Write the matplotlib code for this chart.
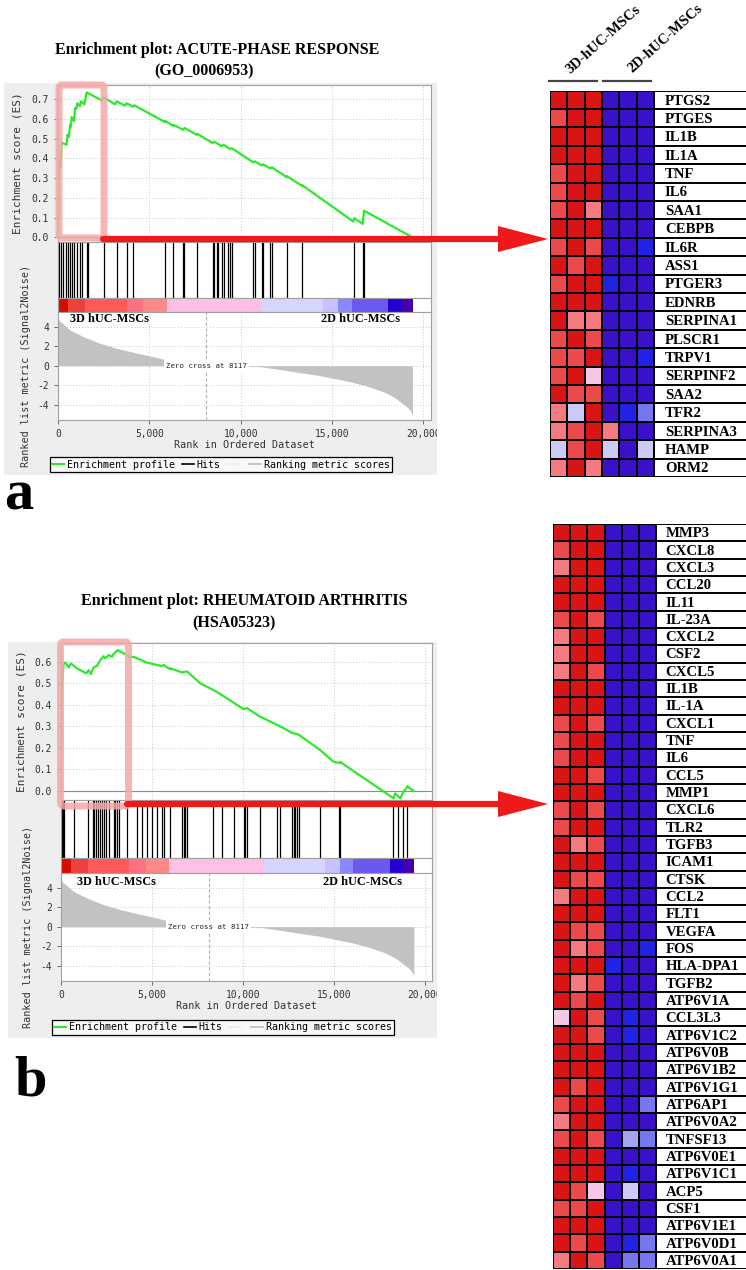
import numpy as np
import matplotlib.pyplot as plt
from matplotlib.colors import ListedColormap
from matplotlib.patches import FancyBboxPatch, Polygon
from matplotlib.lines import Line2D

plt.rcParams['axes.unicode_minus'] = False

W, H = 746, 1270
MONO = 'DejaVu Sans Mono'
SERIF = 'Liberation Serif'

# ---------------- GSEA data ----------------
# panel a: ACUTE-PHASE RESPONSE, running enrichment score
es_a_rank = [0, 55, 150, 200, 470, 520, 600, 655, 700, 748, 880, 930, 1000, 1060, 1200,
             1260, 1440, 1570, 2390, 2500, 3120, 3210, 3660, 3760, 4120, 4170, 5850, 5880,
             6310, 6340, 6860, 6920, 7590, 7620, 8470, 8560, 8960, 9060, 9420, 9510,
             10690, 10780, 11150, 11240, 11600, 11700, 12520, 12540, 13340, 13360,
             16160, 16220, 16680, 16750, 19400]
es_a = [0.0, 0.38, 0.36, 0.48, 0.47, 0.52, 0.51, 0.57, 0.56, 0.61, 0.59, 0.655, 0.65, 0.68, 0.665,
        0.69, 0.675, 0.735, 0.695, 0.71, 0.675, 0.69, 0.668, 0.68, 0.662, 0.67, 0.585, 0.59,
        0.565, 0.57, 0.545, 0.555, 0.52, 0.525, 0.478, 0.485, 0.462, 0.47, 0.448, 0.452,
        0.38, 0.385, 0.365, 0.37, 0.35, 0.355, 0.305, 0.31, 0.262, 0.265,
        0.08, 0.097, 0.068, 0.135, 0.0]
hits_a = [55, 164, 292, 420, 566, 657, 748, 876, 1058, 1204, 1332, 1569, 1660, 2536, 3211,
          3759, 4123, 5857, 6313, 6860, 6915, 7590, 8466, 8539, 8685, 8776, 8958, 9086, 9287,
          9414, 9506, 10692, 10783, 11148, 11239, 11604, 11695, 12516, 13337, 16220, 16713,
          16749]

# panel b: RHEUMATOID ARTHRITIS
es_b_rank = [0, 30, 145, 236, 420, 548, 877, 1390, 1518, 1647, 1793, 1976, 2160, 2343, 2435,
             2618, 2801, 2893, 3113, 3625, 3809, 3992, 4175, 4725, 5274, 5550, 5640, 6000,
             6010, 6650, 6930, 7656, 8350, 8850, 9490, 10040, 10220, 10950, 11320, 12050,
             12700, 13060, 14250, 14980, 15310, 15350, 18283, 18375, 18558, 18650, 18833,
             18980, 19053, 19236, 19400]
es_b = [0.0, 0.47, 0.592, 0.596, 0.574, 0.592, 0.569, 0.546, 0.561, 0.543, 0.574, 0.58,
        0.608, 0.626, 0.616, 0.631, 0.623, 0.636, 0.654, 0.631, 0.62, 0.623, 0.616, 0.596,
        0.585, 0.58, 0.585, 0.565, 0.57, 0.55, 0.555, 0.5, 0.47, 0.445, 0.41, 0.38, 0.385,
        0.345, 0.33, 0.3, 0.27, 0.262, 0.19, 0.136, 0.13, 0.135, -0.034, -0.011, -0.026,
        -0.034, -0.003, 0.012, 0.023, 0.008, 0.0]
hits_b = [16, 53, 90, 145, 694, 1464, 1757, 1830, 1922, 2013, 2123, 2251, 2343, 2490, 2618,
          2893, 2985, 3076, 3168, 3626, 4175, 4450, 4725, 4999, 5274, 5549, 5641, 6007, 6648,
          6740, 6831, 6923, 8352, 8847, 9488, 10037, 10129, 10220, 10953, 11869, 12052,
          12693, 12785, 12876, 12968, 13060, 14250, 15313, 15350, 18244, 18556, 18831, 19014]

# ranked list metric (Signal2Noise), same dataset for both panels
metric_rank = [0, 60, 290, 660, 1390, 2300, 3210, 4120, 5040, 5950, 6310, 8117, 11060,
               12330, 13250, 14160, 15070, 15980, 16890, 17810, 18350, 18720, 19080, 19270,
               19400]
metric = [5.0, 4.6, 4.27, 3.66, 2.97, 2.29, 1.78, 1.37, 0.99, 0.58, 0.41, 0.0, -0.1,
          -0.44, -0.72, -0.96, -1.3, -1.64, -2.09, -2.67, -3.18, -3.69, -4.2, -4.55, -5.06]

# colour bar under the hits
bar_edges = [0, 566, 1478, 3759, 4671, 5948, 11148, 14523, 15344, 16074, 18081, 18811, 19413]
bar_colors = ['#d60c00', '#ef4040', '#ff5a5a', '#ff7080', '#ff8989', '#ffc0e5',
              '#d5d5ff', '#c7c1ff', '#8888ff', '#6b58ef', '#2700d1', '#4500ad']

rank_ticks = [0, 5000, 10000, 15000, 20000]
rank_labels = ['0', '5,000', '10,000', '15,000', '20,000']

# ---------------- heatmaps ----------------
cell_colors = ['#3a10c8', '#2222e4', '#7676ee', '#a4a4f2', '#cacaf4',
               '#f6c6e6', '#f47a82', '#ec4a4a', '#d81414']
groups = ['3D-hUC-MSCs', '2D-hUC-MSCs']

genes_a = ['PTGS2', 'PTGES', 'IL1B', 'IL1A', 'TNF', 'IL6', 'SAA1', 'CEBPB', 'IL6R', 'ASS1',
           'PTGER3', 'EDNRB', 'SERPINA1', 'PLSCR1', 'TRPV1', 'SERPINF2', 'SAA2', 'TFR2',
           'SERPINA3', 'HAMP', 'ORM2']
levels_a = [[8, 8, 8, 0, 0, 0], [7, 8, 8, 0, 0, 0], [8, 8, 8, 0, 0, 0], [8, 8, 8, 0, 0, 0],
            [7, 8, 8, 0, 0, 0], [7, 8, 8, 0, 0, 0], [7, 8, 6, 0, 0, 0], [8, 8, 8, 0, 0, 0],
            [7, 8, 7, 0, 0, 1], [8, 7, 8, 0, 0, 0], [7, 8, 8, 1, 0, 0], [8, 8, 8, 0, 0, 0],
            [8, 6, 6, 0, 0, 0], [7, 8, 7, 0, 0, 0], [7, 7, 8, 0, 0, 1], [7, 8, 5, 0, 0, 0],
            [8, 7, 7, 0, 0, 0], [6, 4, 8, 0, 1, 2], [6, 7, 8, 6, 0, 0], [4, 7, 8, 4, 0, 4],
            [6, 8, 6, 0, 0, 0]]

genes_b = ['MMP3', 'CXCL8', 'CXCL3', 'CCL20', 'IL11', 'IL-23A', 'CXCL2', 'CSF2', 'CXCL5',
           'IL1B', 'IL-1A', 'CXCL1', 'TNF', 'IL6', 'CCL5', 'MMP1', 'CXCL6', 'TLR2', 'TGFB3',
           'ICAM1', 'CTSK', 'CCL2', 'FLT1', 'VEGFA', 'FOS', 'HLA-DPA1', 'TGFB2', 'ATP6V1A',
           'CCL3L3', 'ATP6V1C2', 'ATP6V0B', 'ATP6V1B2', 'ATP6V1G1', 'ATP6AP1', 'ATP6V0A2',
           'TNFSF13', 'ATP6V0E1', 'ATP6V1C1', 'ACP5', 'CSF1', 'ATP6V1E1', 'ATP6V0D1', 'ATP6V0A1']
levels_b = [[8, 8, 8, 0, 0, 0], [7, 8, 8, 0, 0, 0], [6, 8, 8, 0, 0, 0], [8, 8, 8, 0, 0, 0],
            [8, 8, 8, 0, 0, 0], [7, 8, 7, 0, 0, 0], [6, 8, 8, 0, 0, 0], [6, 8, 8, 0, 0, 0],
            [6, 8, 7, 0, 0, 0], [8, 8, 8, 0, 0, 0], [8, 8, 8, 0, 0, 0], [7, 8, 7, 0, 0, 0],
            [7, 8, 8, 0, 0, 0], [7, 8, 8, 0, 0, 0], [8, 8, 7, 0, 0, 0], [8, 8, 8, 0, 0, 0],
            [7, 8, 7, 0, 0, 0], [7, 8, 8, 0, 0, 0], [8, 6, 7, 0, 0, 0], [8, 8, 8, 0, 0, 0],
            [8, 7, 7, 0, 0, 0], [6, 8, 8, 0, 0, 0], [8, 8, 8, 0, 0, 0], [8, 7, 7, 0, 0, 0],
            [8, 6, 7, 0, 0, 1], [8, 8, 8, 1, 0, 0], [8, 6, 7, 0, 0, 0], [8, 7, 8, 0, 0, 0],
            [5, 8, 7, 0, 1, 0], [8, 8, 7, 0, 1, 0], [8, 8, 8, 0, 0, 0], [8, 8, 8, 0, 0, 0],
            [8, 7, 8, 0, 0, 0], [7, 8, 8, 0, 0, 2], [6, 8, 8, 0, 0, 0], [7, 8, 7, 0, 3, 2],
            [8, 8, 8, 0, 0, 0], [8, 8, 8, 0, 1, 0], [8, 7, 5, 0, 4, 0], [7, 7, 8, 0, 0, 0],
            [8, 8, 8, 0, 0, 0], [8, 7, 8, 0, 1, 2], [6, 8, 7, 0, 2, 2]]


def px(x0, y0, x1, y1):
    # pixel box (top-left origin) -> figure fraction rect
    return [x0 / W, 1 - y1 / H, (x1 - x0) / W, (y1 - y0) / H]


def frame(ax, color='#a0a0a0'):
    for s in ax.spines.values():
        s.set_color(color)
        s.set_linewidth(0.8)
    ax.tick_params(colors='#555555', labelcolor='#333333', length=3, width=0.6,
                   labelsize=6.9)
    for lab in ax.get_xticklabels() + ax.get_yticklabels():
        lab.set_family(MONO)


fig = plt.figure(figsize=(W / 100, H / 100), dpi=100)


def gsea(lay, es_rank, es, hits, es_ticks, title):
    xa, xb = lay['x']
    bg = fig.add_axes(px(*lay['bg']))
    bg.set_facecolor('#eeeeee')
    bg.set_xticks([])
    bg.set_yticks([])
    for s in bg.spines.values():
        s.set_visible(False)
    bg.set_zorder(-5)

    # enrichment score
    ax = fig.add_axes(px(xa, lay['es'][0], xb, lay['es'][1]))
    ax.plot(es_rank, es, color='#2ee82e', lw=1.6, zorder=3)
    ax.axhline(0, color='#8c8c8c', lw=0.8)
    ax.set_xlim(0, lay['xmax'])
    ax.set_ylim(*lay['es_lim'])
    ax.set_xticks(rank_ticks)
    ax.set_yticks(es_ticks)
    ax.set_yticklabels(['%.1f' % t for t in es_ticks])
    ax.tick_params(axis='x', length=0, labelbottom=False)
    ax.grid(color='#c8c8c8', ls=(0, (1, 2)), lw=0.7)
    frame(ax)
    ax.set_ylabel('Enrichment score (ES)', family=MONO, fontsize=8, color='#333333')
    ax.yaxis.set_label_coords(lay['es_lab'], 0.5)

    # hits
    hx = fig.add_axes(px(xa, lay['hits'][0], xb, lay['hits'][1]))
    hx.vlines(hits, 0, 1, color='black', lw=0.9)
    hx.set_xlim(0, lay['xmax'])
    hx.set_ylim(0, 1)
    hx.set_xticks([])
    hx.set_yticks([])
    frame(hx)

    # colour bar
    cx = fig.add_axes(px(xa, lay['bar'][0], xb, lay['bar'][1]))
    segs = [(bar_edges[i], bar_edges[i + 1] - bar_edges[i]) for i in range(len(bar_colors))]
    cx.broken_barh(segs, (0, 1), facecolors=bar_colors, lw=0)
    cx.set_xlim(0, lay['xmax'])
    cx.set_ylim(0, 1)
    cx.set_xticks([])
    cx.set_yticks([])
    frame(cx)

    # ranked list metric
    rk = fig.add_axes(px(xa, lay['rank'][0], xb, lay['rank'][1]))
    rk.fill_between(metric_rank, metric, 0, color='#c2c2c2', lw=0)
    rk.axvline(8117, color='#b0b0b0', ls=(0, (3, 2)), lw=0.8)
    rk.text(8117, 0, 'Zero cross at 8117', ha='center', va='center', family=MONO,
            fontsize=5.3, color='#222222',
            bbox=dict(fc='white', ec='none', pad=1.6))
    rk.set_xlim(0, lay['xmax'])
    rk.set_ylim(*lay['rank_lim'])
    rk.set_xticks(rank_ticks)
    rk.set_xticklabels(rank_labels)
    rk.set_yticks([4, 2, 0, -2, -4])
    rk.grid(color='#c8c8c8', ls=(0, (1, 2)), lw=0.7)
    frame(rk)
    for lab in rk.get_xticklabels():
        lab.set_clip_box(bg.bbox)
        lab.set_clip_on(True)
    rk.set_xlabel('Rank in Ordered Dataset', family=MONO, fontsize=7.3, color='#333333',
                  labelpad=1)
    rk.set_ylabel('Ranked list metric (Signal2Noise)', family=MONO, fontsize=7.3,
                  color='#333333')
    rk.yaxis.set_label_coords(lay['rank_lab'], 0.5)

    handles = [Line2D([], [], color='#2ee82e', lw=1.5), Line2D([], [], color='black', lw=1.2),
               Line2D([], [], color='#ececec', lw=1.2), Line2D([], [], color='#bdbdbd', lw=1.2)]
    lx0, ly0, lx1, ly1 = lay['legend']
    leg = fig.legend(handles, ['Enrichment profile', 'Hits', '', 'Ranking metric scores'],
                     loc='center', bbox_to_anchor=((lx0 + lx1) / 2 / W, 1 - (ly0 + ly1) / 2 / H),
                     ncol=4, prop={'family': MONO, 'size': 7.2}, handlelength=1.2,
                     handletextpad=0.25, columnspacing=0.7, borderpad=0.25,
                     fancybox=False, edgecolor='black', framealpha=1, facecolor='#f8f8f8')
    leg.get_frame().set_linewidth(0.9)

    tx, ty1, ty2 = lay['title']
    fig.text(tx / W, 1 - ty1 / H, title[0], ha='center', va='center', family=SERIF,
             weight='bold', fontsize=11.5)
    fig.text(lay['title2x'] / W, 1 - ty2 / H, title[1], ha='center', va='center',
             family=SERIF, weight='bold', fontsize=11.5)
    return ax


lay_a = dict(bg=(4, 83, 437, 475), x=(58, 431), xmax=20416, es=(85, 242), hits=(242, 298),
             bar=(298, 312), rank=(312, 420), es_lim=(-0.0238, 0.7727), rank_lim=(-5.57, 5.5),
             es_lab=-0.094, rank_lab=-0.072, legend=(49, 455, 393, 474),
             title=(217, 50, 71), title2x=204)
lay_b = dict(bg=(8, 642, 437, 1038), x=(61, 432), xmax=20400, es=(643, 800), hits=(800, 858),
             bar=(858, 873), rank=(873, 981), es_lim=(-0.0418, 0.687), rank_lim=(-5.57, 5.51),
             es_lab=-0.094, rank_lab=-0.075, legend=(52, 1017, 394, 1037),
             title=(244, 601, 623), title2x=234)

gsea(lay_a, es_a_rank, es_a, hits_a, [0.0, 0.1, 0.2, 0.3, 0.4, 0.5, 0.6, 0.7],
     ('Enrichment plot: ACUTE-PHASE RESPONSE', '(GO_0006953)'))
gsea(lay_b, es_b_rank, es_b, hits_b, [0.0, 0.1, 0.2, 0.3, 0.4, 0.5, 0.6],
     ('Enrichment plot: RHEUMATOID ARTHRITIS', '(HSA05323)'))


def heatmap(x0, xs, y0, y1, genes, levels, text_dx):
    ax = fig.add_axes(px(x0, y0, W, y1))
    n = len(genes)
    cmap = ListedColormap(cell_colors)
    ax.pcolormesh(np.arange(7), np.arange(n + 1), np.array(levels), cmap=cmap,
                  vmin=-0.5, vmax=len(cell_colors) - 0.5, edgecolors='black', linewidth=1.3)
    xmax = 6 * (W - x0) / (xs - x0)
    ax.hlines(np.arange(n + 1), 6, xmax, color='black', lw=1.4)
    for i, g in enumerate(genes):
        ax.text(6 + text_dx, i + 0.56, g, ha='left', va='center', family=SERIF,
                weight='bold', fontsize=10.6)
    ax.set_xlim(0, xmax)
    ax.set_ylim(n, 0)
    ax.axis('off')


heatmap(550, 654, 90.7, 477, genes_a, levels_a, 0.63)
heatmap(553, 656, 524, 1269, genes_b, levels_b, 0.55)

# ---------------- annotations in pixel space ----------------
ov = fig.add_axes([0, 0, 1, 1])
ov.set_xlim(0, W)
ov.set_ylim(H, 0)
ov.axis('off')
ov.patch.set_alpha(0)
ov.set_zorder(10)

red = '#f01818'
pink = '#f5a8a8'
for (rx0, ry0, rx1, ry1), (lx, ly) in [((59, 85, 104, 238), (103, 239)),
                                       ((60.5, 642, 128.5, 806), (127, 804))]:
    ov.add_patch(FancyBboxPatch((rx0, ry0), rx1 - rx0, ry1 - ry0,
                                boxstyle='round,pad=0,rounding_size=3', fc='none',
                                ec=pink, lw=5, alpha=0.85))
    ov.plot([lx, 502], [ly, ly], color=red, lw=4.5, solid_capstyle='round')
    ov.add_patch(Polygon([[498, ly - 13], [548, ly], [498, ly + 13]], closed=True,
                         fc=red, ec='none'))

# group labels inside the ranked panels
for y, xl, xr in [(319, 70, 400), (882, 77, 402)]:
    ov.text(xl, y, '3D hUC-MSCs', ha='left', va='center', family=SERIF, weight='bold',
            fontsize=8.8)
    ov.text(xr, y, '2D hUC-MSCs', ha='right', va='center', family=SERIF, weight='bold',
            fontsize=8.8)

# heatmap column headers
ov.plot([549, 597], [81, 81], color='#444444', lw=1.6)
ov.plot([603, 651], [81, 81], color='#444444', lw=1.6)
ov.text(570, 74, groups[0], rotation=42, rotation_mode='anchor', ha='left', va='baseline',
        family=SERIF, weight='bold', fontsize=10.5)
ov.text(632, 73, groups[1], rotation=42, rotation_mode='anchor', ha='left', va='baseline',
        family=SERIF, weight='bold', fontsize=10.5)

# panel letters
ov.text(4, 509, 'a', ha='left', va='baseline', family=SERIF, weight='bold', fontsize=42)
ov.text(14, 1095, 'b', ha='left', va='baseline', family=SERIF, weight='bold', fontsize=42)

fig.savefig('out.png', dpi=100)
